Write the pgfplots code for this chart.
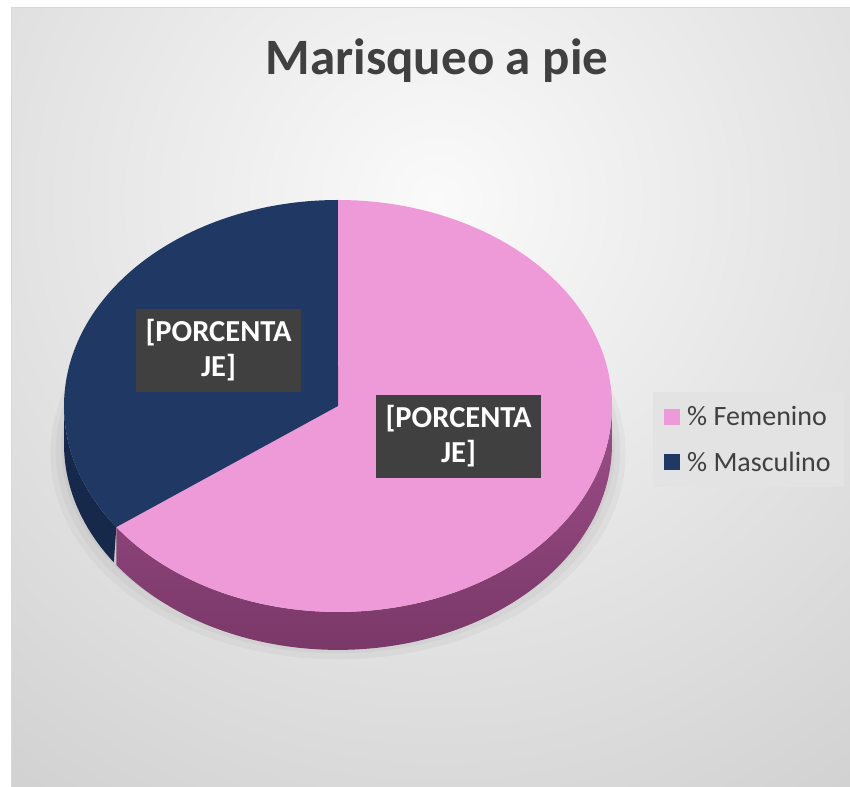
\documentclass[border=0pt]{standalone}
\usepackage{pgfplots}
\pgfplotsset{compat=1.18}
\usepackage{pgfplotstable}
\usepackage{fontspec}
\setmainfont{Carlito}

\definecolor{fem}{HTML}{EE9AD8}
\definecolor{femside}{HTML}{7A3868}
\definecolor{femsidel}{HTML}{9C4E88}
\definecolor{masc}{HTML}{1F3864}
\definecolor{mascside}{HTML}{16294A}
\definecolor{txt}{HTML}{404040}
\definecolor{bgin}{HTML}{FAFAFA}
\definecolor{bgout}{HTML}{A6A6A6}
\definecolor{leg}{HTML}{E3E3E3}
\pgfdeclareradialshading{bgshade}{\pgfpoint{0bp}{0bp}}{color(0bp)=(bgin); color(50bp)=(bgout)}

\pgfplotstableread{
label value
Femenino 65
Masculino 35
}\piedata

\begin{document}
\begin{tikzpicture}[x=1pt,y=1pt]
\pgfplotstablegetelem{0}{value}\of\piedata \let\vf\pgfplotsretval
\pgfplotstablegetelem{1}{value}\of\piedata \let\vm\pgfplotsretval
\pgfmathsetmacro{\total}{\vf+\vm}
\pgfmathsetmacro{\aone}{90-360*(\vf/\total)}
\pgfmathsetmacro{\atwo}{\aone-360*(\vm/\total)}
\def\dep{0.184}
\useasboundingbox (0,0) rectangle (850,786);
\fill[white] (0,0) rectangle (850,786);
\begin{scope}
\clip (11,0) rectangle (850,778);
\shade[shading=bgshade] (437,586) circle (750);
\end{scope}
\draw[gray!30, line width=1pt] (11,0) -- (11,778) -- (850,778);
\node[text=txt, font=\fontsize{51}{60}\selectfont\bfseries, anchor=base] at (437,711) {Marisqueo a pie};

\begin{axis}[hide axis, scale only axis, width=548pt, height=453.2pt,
  xmin=-1, xmax=1, ymin=-1.2, ymax=1, anchor=south west, at={(64pt,132.8pt)},
  clip=false,
  legend style={at={(1.0748,0.5763)}, anchor=north west, draw=none, fill=leg,
    font=\fontsize{28}{33}\selectfont, text=txt, inner xsep=11pt, inner ysep=12pt,
    row sep=21pt, cells={anchor=west},
    /tikz/every odd column/.append style={column sep=5pt}},
  legend image code/.code={\fill[#1, draw=none] (0pt,-8pt) rectangle (16pt,8pt);},
]
% soft shadow
\addplot[fill=black, fill opacity=0.03, draw=none, domain=0:360, samples=120, forget plot] ({1.05*cos(x)},{1.0*sin(x)-0.23});
\addplot[fill=black, fill opacity=0.03, draw=none, domain=0:360, samples=120, forget plot] ({1.03*cos(x)},{0.98*sin(x)-0.22});
\addplot[fill=black, fill opacity=0.03, draw=none, domain=0:360, samples=120, forget plot] ({1.01*cos(x)},{0.96*sin(x)-0.21});
% side faces (closed loop: top arc forward, bottom arc back)
\addplot[fill=mascside, draw=none, domain=0:2, samples=81, forget plot]
  ({cos(-180+(\aone+180)*(1-abs(1-x)))},{sin(-180+(\aone+180)*(1-abs(1-x)))-ifthenelse(x>1,\dep,0)});
\addplot[draw=none, left color=femsidel, right color=femside, shading angle=0, domain=0:2, samples=201, forget plot]
  ({cos(\aone+(0-\aone)*(1-abs(1-x)))},{sin(\aone+(0-\aone)*(1-abs(1-x)))-ifthenelse(x>1,\dep,0)});
% top faces (sectors closed at the centre)
\addplot[fill=fem, draw=none, domain=0:1.01, samples=202, forget plot]
  ({ifthenelse(x>1.0001,0,cos(\aone+(90-\aone)*min(x,1)))},{ifthenelse(x>1.0001,0,sin(\aone+(90-\aone)*min(x,1)))});
\addplot[fill=masc, draw=none, domain=0:1.01, samples=102, forget plot]
  ({ifthenelse(x>1.0001,0,cos(\atwo+(\aone-\atwo)*min(x,1)))},{ifthenelse(x>1.0001,0,sin(\atwo+(\aone-\atwo)*min(x,1)))});
% labels
\node[fill=txt, text=white, font=\fontsize{30.5}{35}\selectfont\bfseries, align=center, minimum width=165pt, minimum height=83pt, inner sep=0pt] at (axis cs:-0.436,0.269) {[PORCENTA\\JE]};
\node[fill=txt, text=white, font=\fontsize{30.5}{35}\selectfont\bfseries, align=center, minimum width=165pt, minimum height=83pt, inner sep=0pt] at (axis cs:0.440,-0.148) {[PORCENTA\\JE]};
\addlegendimage{fill=fem}
\addlegendentry{\% Femenino}
\addlegendimage{fill=masc}
\addlegendentry{\% Masculino}
\end{axis}
\end{tikzpicture}
\end{document}
